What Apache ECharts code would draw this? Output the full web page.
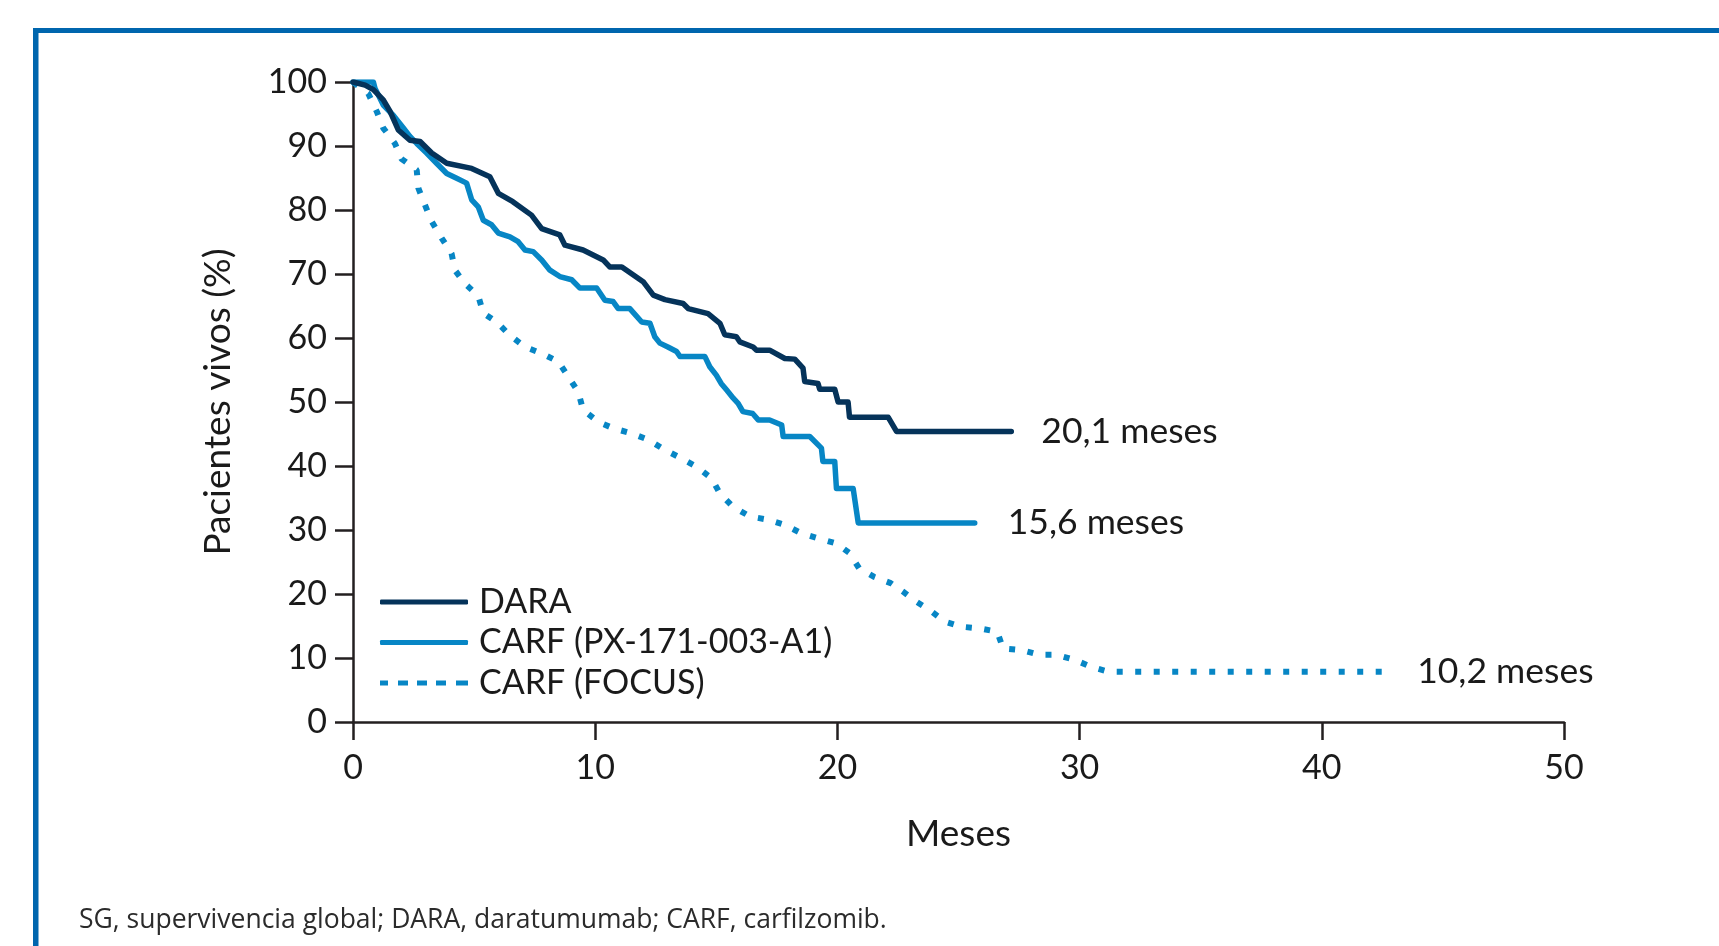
<!DOCTYPE html>
<html>
<head>
<meta charset="utf-8">
<script src="https://cdn.jsdelivr.net/npm/echarts@6/dist/echarts.min.js"></script>
<style>
  html, body { margin: 0; padding: 0; background: #fff; }
  #chart { width: 1719px; height: 946px; }
</style>
</head>
<body>
<div id="chart"></div>
<script>
// Kaplan-Meier curves (months, % alive)
const daraMonths = [0, 0.5, 0.84, 1.25, 1.53, 1.87, 2.35, 2.77, 3.25, 3.87, 4.9, 5.65, 6.0, 6.6, 7.37, 7.79, 8.54, 8.75, 9.5, 10.33, 10.6, 11.1, 11.98, 12.4, 12.88, 13.63, 13.84, 14.66, 15.15, 15.35, 15.83, 15.97, 16.52, 16.66, 17.2, 17.83, 18.24, 18.58, 18.65, 19.2, 19.27, 19.89, 20.03, 20.44, 20.5, 22.1, 22.44, 27.18]
const daraSurv = [100, 99.5, 98.8, 97.2, 95.4, 92.5, 90.9, 90.7, 88.9, 87.3, 86.5, 85.2, 82.6, 81.3, 79.2, 77.1, 76.1, 74.5, 73.75, 72.2, 71.1, 71.1, 68.8, 66.7, 66.0, 65.4, 64.6, 63.8, 62.3, 60.5, 60.2, 59.4, 58.6, 58.1, 58.1, 56.8, 56.7, 55.3, 53.2, 52.9, 52.0, 52.0, 50.0, 50.0, 47.6, 47.6, 45.4, 45.4]

const pxMonths = [0, 0.84, 0.91, 1.25, 1.66, 2.08, 2.35, 2.63, 3.04, 3.45, 3.87, 4.28, 4.69, 4.9, 5.17, 5.38, 5.72, 6.0, 6.48, 6.82, 7.1, 7.44, 7.79, 8.13, 8.54, 9.03, 9.37, 10.06, 10.4, 10.74, 10.95, 11.43, 11.92, 12.26, 12.46, 12.67, 13.0, 13.36, 13.5, 14.53, 14.73, 15.0, 15.2, 15.42, 15.7, 15.9, 16.1, 16.5, 16.73, 17.2, 17.7, 17.76, 18.86, 19.34, 19.4, 19.89, 19.96, 20.65, 20.86, 25.67]
const pxSurv = [100, 100, 99.0, 96.4, 94.8, 92.8, 91.5, 90.4, 88.9, 87.3, 85.7, 84.95, 84.2, 81.6, 80.5, 78.4, 77.7, 76.4, 75.8, 75.05, 73.75, 73.5, 72.2, 70.6, 69.6, 69.1, 67.8, 67.8, 65.9, 65.7, 64.6, 64.6, 62.5, 62.3, 60.2, 59.2, 58.6, 57.9, 57.1, 57.1, 55.5, 54.2, 52.9, 51.9, 50.6, 49.8, 48.5, 48.2, 47.2, 47.2, 46.4, 44.6, 44.6, 42.8, 40.7, 40.7, 36.5, 36.5, 31.1, 31.1]

const focusMonths = [0, 0.63, 0.98, 1.25, 1.73, 2.0, 2.63, 2.7, 2.97, 3.25, 3.66, 4.07, 4.21, 4.62, 5.17, 5.38, 5.93, 6.48, 7.1, 7.79, 8.48, 8.89, 9.3, 9.5, 10.12, 10.74, 11.5, 12.19, 12.88, 13.56, 14.18, 14.8, 15.15, 15.7, 16.4, 17.15, 17.83, 18.5, 19.2, 19.96, 20.5, 20.9, 21.5, 22.2, 22.7, 23.26, 23.81, 24.43, 25.1, 25.9, 26.6, 26.84, 27.6, 28.35, 29.04, 29.8, 30.5, 31.2, 42.7]
const focusSurv = [100, 98.2, 95.4, 92.8, 90.4, 88.0, 86.25, 83.4, 80.8, 78.2, 75.6, 73.2, 70.6, 68.5, 66.6, 63.9, 62.5, 60.4, 58.6, 57.6, 56.3, 53.95, 51.6, 48.75, 46.9, 45.9, 45.1, 44.1, 42.5, 41.2, 39.9, 38.1, 35.7, 33.6, 32.1, 31.6, 30.8, 29.5, 28.7, 27.9, 26.4, 24.0, 22.7, 21.7, 20.4, 18.8, 17.5, 15.7, 14.9, 14.6, 14.1, 11.5, 11.25, 10.5, 10.5, 9.7, 8.6, 7.85, 7.85]

const seriesNames = ['DARA', 'CARF (PX-171-003-A1)', 'CARF (FOCUS)']
const medianLabels = ['20,1 meses', '15,6 meses', '10,2 meses']
const xTicks = [0, 10, 20, 30, 40, 50]
const yTicks = [0, 10, 20, 30, 40, 50, 60, 70, 80, 90, 100]

const zip = (xs, ys) => xs.map((x, i) => [x, ys[i]])

const FONT = 'Lato'
const TEXT = '#1a1a1a'
const AXIS = '#231f20'
const NAVY = '#05335a'
const BLUE = '#0786c5'

// legend swatches: thick bars, dashed one for FOCUS
const dashIcon = 'path://M0,0h8v5h-8z M18,0h10v5h-10z M37,0h10v5h-10z M56,0h10v5h-10z M76,0h12v5h-12z'

const chart = echarts.init(document.getElementById('chart'))

function endLabel(text, dist) {
  return {
    show: true,
    formatter: text,
    distance: dist,
    color: TEXT,
    fontFamily: FONT,
    fontSize: 35.5,
  }
}

chart.setOption({
  backgroundColor: '#fff',
  animation: false,
  textStyle: { fontFamily: FONT },
  grid: { left: 353, right: 155, top: 82, bottom: 224 },
  legend: {
    orient: 'vertical',
    left: 380,
    top: 584,
    padding: 0,
    itemWidth: 88,
    itemHeight: 5,
    itemGap: 4.5,
    symbolKeepAspect: false,
    textStyle: { color: TEXT, fontFamily: FONT, fontSize: 34, lineHeight: 36, padding: [0, 0, 0, 6] },
    data: [
      { name: seriesNames[0], icon: 'roundRect' },
      { name: seriesNames[1], icon: 'roundRect' },
      { name: seriesNames[2], icon: dashIcon },
    ],
  },
  xAxis: {
    type: 'value',
    min: 0,
    max: 50,
    interval: 10,
    name: 'Meses',
    nameLocation: 'middle',
    nameGap: 94,
    nameTextStyle: { color: TEXT, fontFamily: FONT, fontSize: 37 },
    axisLine: { lineStyle: { color: AXIS, width: 2.5 } },
    axisTick: { length: 18, lineStyle: { color: AXIS, width: 2.5 } },
    axisLabel: {
      color: TEXT, fontSize: 34, margin: 29,
      formatter: v => xTicks.includes(v) ? String(v) : '',
    },
    splitLine: { show: false },
  },
  yAxis: {
    type: 'value',
    min: 0,
    max: 100,
    interval: 10,
    name: 'Pacientes vivos (%)',
    nameLocation: 'middle',
    nameRotate: 90,
    nameGap: 116,
    nameTextStyle: { color: TEXT, fontFamily: FONT, fontSize: 37 },
    axisLine: { show: true, lineStyle: { color: AXIS, width: 2.5 } },
    axisTick: { show: true, length: 18, lineStyle: { color: AXIS, width: 2.5 } },
    axisLabel: {
      color: TEXT, fontSize: 34, margin: 26,
      formatter: v => yTicks.includes(v) ? String(v) : '',
    },
    splitLine: { show: false },
  },
  series: [
    {
      name: seriesNames[2],
      type: 'line',
      data: zip(focusMonths, focusSurv),
      symbol: 'none',
      lineStyle: { color: BLUE, width: 6, type: [6, 12.5], cap: 'butt' },
      itemStyle: { color: BLUE },
      endLabel: endLabel(medianLabels[2], 30),
      z: 2,
    },
    {
      name: seriesNames[1],
      type: 'line',
      data: zip(pxMonths, pxSurv),
      symbol: 'none',
      lineStyle: { color: BLUE, width: 5.5, cap: 'round', join: 'round' },
      itemStyle: { color: BLUE },
      endLabel: endLabel(medianLabels[1], 33),
      z: 3,
    },
    {
      name: seriesNames[0],
      type: 'line',
      data: zip(daraMonths, daraSurv),
      symbol: 'none',
      lineStyle: { color: NAVY, width: 5.5, cap: 'round', join: 'round' },
      itemStyle: { color: NAVY },
      endLabel: endLabel(medianLabels[0], 30),
      z: 4,
    },
  ],
  graphic: [
    // blue frame of the figure box
    { type: 'rect', left: 33, top: 28, shape: { width: 1719 - 33, height: 5 }, style: { fill: '#0066ae' }, silent: true },
    { type: 'rect', left: 33, top: 28, shape: { width: 5.5, height: 946 - 28 }, style: { fill: '#0066ae' }, silent: true },
    {
      type: 'text',
      left: 79,
      top: 907,
      style: {
        text: 'SG, supervivencia global; DARA, daratumumab; CARF, carfilzomib.',
        fill: '#2b2b2b',
        font: '26.5px "Open Sans"',
      },
      silent: true,
    },
  ],
})
</script>
</body>
</html>
